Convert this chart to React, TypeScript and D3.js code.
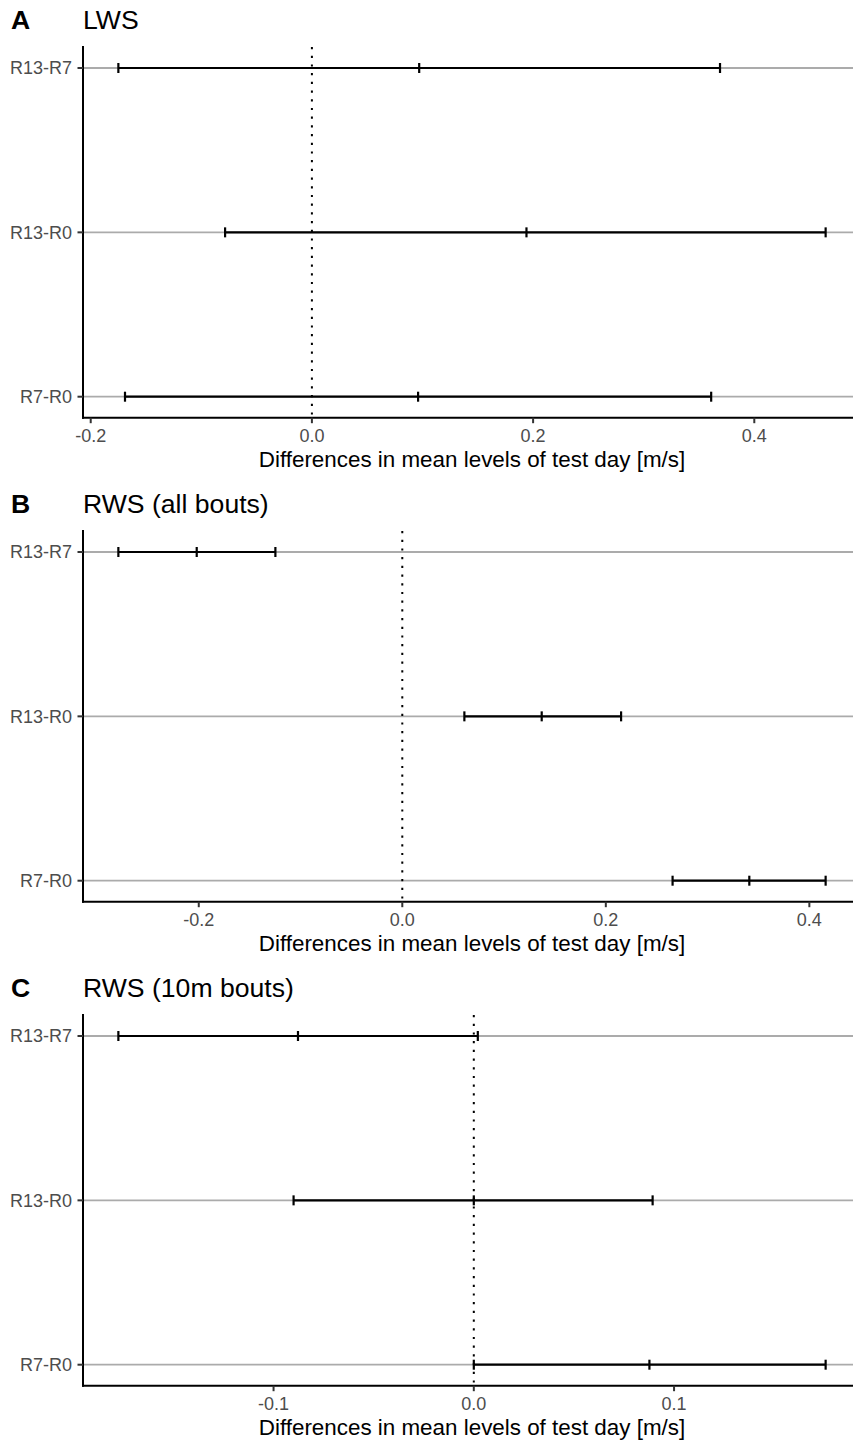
import React from "react";
import * as d3 from "d3";

const comparisons = ["R13-R7", "R13-R0", "R7-R0"];
const panelLetters = ["A", "B", "C"];
const panelTitles = ["LWS", "RWS (all bouts)", "RWS (10m bouts)"];
const xAxisTitle = "Differences in mean levels of test day [m/s]";

const lwsEstimate = [0.097, 0.194, 0.096];
const lwsLower = [-0.175, -0.0785, -0.169];
const lwsUpper = [0.369, 0.4645, 0.361];

const rwsAllEstimate = [-0.202, 0.137, 0.341];
const rwsAllLower = [-0.279, 0.061, 0.2656];
const rwsAllUpper = [-0.1247, 0.215, 0.416];

const rws10Estimate = [-0.0878, 0.0, 0.0877];
const rws10Lower = [-0.1775, -0.09, 0.0];
const rws10Upper = [0.002, 0.0893, 0.1757];

const lwsTicks = [-0.2, 0.0, 0.2, 0.4];
const rwsAllTicks = [-0.2, 0.0, 0.2, 0.4];
const rws10Ticks = [-0.1, 0.0, 0.1];

const panels = [
  { est: lwsEstimate, lo: lwsLower, hi: lwsUpper, ticks: lwsTicks },
  { est: rwsAllEstimate, lo: rwsAllLower, hi: rwsAllUpper, ticks: rwsAllTicks },
  { est: rws10Estimate, lo: rws10Lower, hi: rws10Upper, ticks: rws10Ticks },
];

const W = 853;
const H = 1440;
const FONT = "'Liberation Sans', Arial, Helvetica, sans-serif";
const PANEL_H = 484;
const LEFT = 83;
const RIGHT = 861;
const TOP = 47;
const BOTTOM = 417.7;
const CAT_TOP = 68;
const CAT_BOTTOM = 396.7;

function Panel({ idx }: { idx: number }) {
  const p = panels[idx];
  const mn = d3.min(p.lo)!;
  const mx = d3.max(p.hi)!;
  const pad = (mx - mn) * 0.05;
  const x = d3.scaleLinear().domain([mn - pad, mx + pad]).range([LEFT, RIGHT]);
  const y = d3.scalePoint<string>().domain(comparisons).range([CAT_TOP, CAT_BOTTOM]);
  const fmt = (v: number) => d3.format(".1f")(v).replace("\u2212", "-");
  const capH = 5;
  return (
    <g transform={`translate(0,${idx * PANEL_H})`}>
      <text x={11} y={29} fontFamily={FONT} fontSize={26.6} fontWeight="bold" fill="#000">
        {panelLetters[idx]}
      </text>
      <text x={LEFT} y={29} fontFamily={FONT} fontSize={26.6} fill="#000">
        {panelTitles[idx]}
      </text>
      {comparisons.map((c) => (
        <line key={"g" + c} x1={LEFT} x2={RIGHT} y1={y(c)} y2={y(c)} stroke="#ababab" strokeWidth={1.8} />
      ))}
      <line
        x1={x(0)}
        x2={x(0)}
        y1={TOP}
        y2={BOTTOM}
        stroke="#000"
        strokeWidth={2}
        strokeDasharray="2.2 6.5"
      />
      {comparisons.map((c, i) => {
        const yy = y(c)!;
        return (
          <g key={"e" + c} stroke="#000" strokeWidth={2.2}>
            <line x1={x(p.lo[i])} x2={x(p.hi[i])} y1={yy} y2={yy} />
            <line x1={x(p.lo[i])} x2={x(p.lo[i])} y1={yy - capH} y2={yy + capH} />
            <line x1={x(p.est[i])} x2={x(p.est[i])} y1={yy - capH} y2={yy + capH} />
            <line x1={x(p.hi[i])} x2={x(p.hi[i])} y1={yy - capH} y2={yy + capH} />
          </g>
        );
      })}
      <line x1={LEFT} x2={LEFT} y1={TOP} y2={BOTTOM} stroke="#000" strokeWidth={2} strokeLinecap="square" />
      <line x1={LEFT} x2={RIGHT} y1={BOTTOM} y2={BOTTOM} stroke="#000" strokeWidth={2} strokeLinecap="square" />
      {comparisons.map((c) => (
        <g key={"yt" + c}>
          <line x1={LEFT - 5.5} x2={LEFT} y1={y(c)} y2={y(c)} stroke="#333" strokeWidth={2} />
          <text x={72} y={y(c)! + 6.4} textAnchor="end" fontFamily={FONT} fontSize={18} fill="#4d4d4d">
            {c}
          </text>
        </g>
      ))}
      {p.ticks.map((t) => (
        <g key={"xt" + t}>
          <line x1={x(t)} x2={x(t)} y1={BOTTOM} y2={BOTTOM + 5.5} stroke="#333" strokeWidth={2} />
          <text x={x(t)} y={BOTTOM + 24} textAnchor="middle" fontFamily={FONT} fontSize={18} fill="#4d4d4d">
            {fmt(t)}
          </text>
        </g>
      ))}
      <text x={(LEFT + RIGHT) / 2} y={BOTTOM + 49} textAnchor="middle" fontFamily={FONT} fontSize={22.4} fill="#000">
        {xAxisTitle}
      </text>
    </g>
  );
}

export default function App() {
  return (
    <svg
      width={W}
      height={H}
      viewBox={`0 0 ${W} ${H}`}
      style={{ position: "absolute", left: 0, top: 0, background: "#fff" }}
    >
      <rect x={0} y={0} width={W} height={H} fill="#fff" />
      {panels.map((_, i) => (
        <Panel key={i} idx={i} />
      ))}
    </svg>
  );
}
